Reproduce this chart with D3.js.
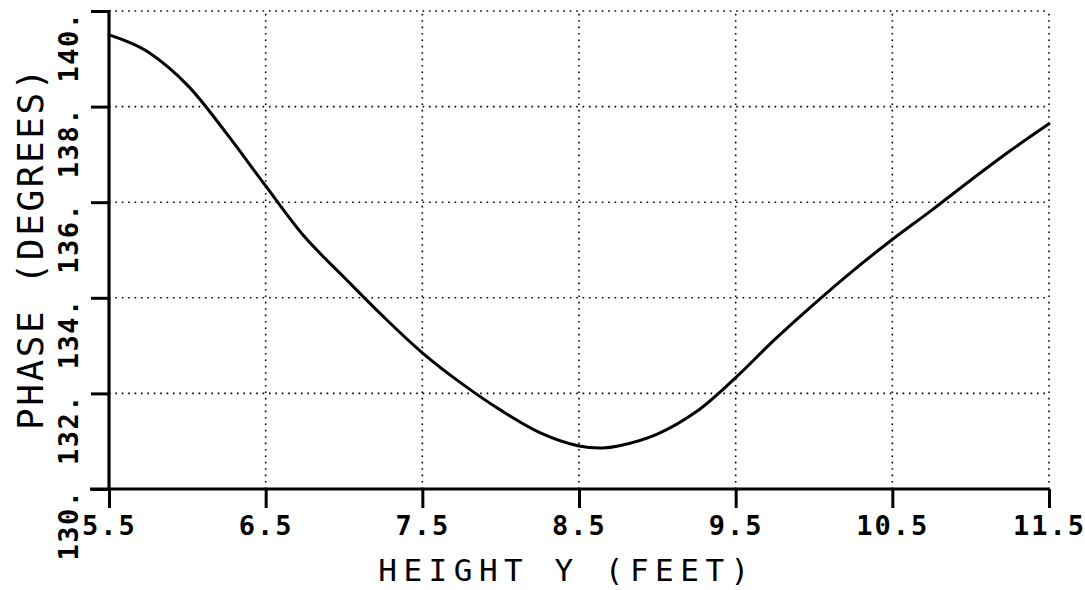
<!DOCTYPE html>
<html>
<head>
<meta charset="utf-8">
<script src="https://cdn.jsdelivr.net/npm/d3@7"></script>
<style>
  html, body { margin: 0; padding: 0; background: #fff; }
  svg { display: block; }
  text { font-family: "DejaVu Sans Mono", monospace; font-weight: bold; fill: #000; }
</style>
</head>
<body>
<svg id="chart" width="1085" height="590"></svg>
<script>
// ---- data ----
const heightFeet = [5.5, 5.625, 5.75, 6.0, 6.25, 6.5, 6.75, 7.0, 7.25, 7.5, 7.75, 8.0, 8.25, 8.5, 8.65, 8.75, 9.0, 9.25, 9.5, 9.75, 10.0, 10.25, 10.5, 10.75, 11.0, 11.25, 11.5];
const phaseDeg   = [139.50, 139.35, 139.14, 138.45, 137.44, 136.34, 135.27, 134.43, 133.61, 132.85, 132.21, 131.65, 131.18, 130.90, 130.86, 130.90, 131.15, 131.62, 132.33, 133.13, 133.87, 134.57, 135.22, 135.83, 136.46, 137.07, 137.64];
const xTicks = [5.5, 6.5, 7.5, 8.5, 9.5, 10.5, 11.5];
const xTickLabels = ["5.5", "6.5", "7.5", "8.5", "9.5", "10.5", "11.5"];
const yTicks = [130, 132, 134, 136, 138, 140];
const yTickLabels = ["130.", "132.", "134.", "136.", "138.", "140."];
const xTitle = "HEIGHT Y (FEET)";
const yTitle = "PHASE (DEGREES)";

// ---- layout ----
const svg = d3.select("#chart");
const x = d3.scaleLinear().domain([5.5, 11.5]).range([109, 1049]);
const y = d3.scaleLinear().domain([130, 140]).range([489, 11]);

// grid (dotted)
const grid = svg.append("g")
  .attr("stroke", "#000").attr("stroke-width", 1.6)
  .attr("stroke-dasharray", "1.6,4.8").attr("fill", "none");
grid.selectAll("line.v").data(xTicks.slice(1)).join("line")
  .attr("x1", d => x(d)).attr("x2", d => x(d))
  .attr("y1", y(130)).attr("y2", y(140));
grid.selectAll("line.h").data(yTicks.slice(1)).join("line")
  .attr("y1", d => y(d)).attr("y2", d => y(d))
  .attr("x1", x(5.5)).attr("x2", x(11.5));

// axes
const xAxis = d3.axisBottom(x).tickValues(xTicks).tickSize(19).tickFormat((d, i) => xTickLabels[i]).tickSizeOuter(0);
const gx = svg.append("g").attr("transform", `translate(0,${y(130)})`).call(xAxis);
gx.select(".domain").remove();
gx.selectAll(".tick line").attr("stroke", "#000").attr("stroke-width", 3);
gx.selectAll(".tick text").attr("y", 46).attr("dy", 0)
  .style("font-size", "27px").style("letter-spacing", "2px");

const yAxis = d3.axisLeft(y).tickValues(yTicks).tickSize(18).tickFormat((d, i) => yTickLabels[i]).tickSizeOuter(0);
const gy = svg.append("g").attr("transform", `translate(${x(5.5)},0)`).call(yAxis);
gy.select(".domain").remove();
gy.selectAll(".tick line").attr("stroke", "#000").attr("stroke-width", 3);
gy.selectAll(".tick text")
  .attr("x", 0).attr("dy", 0).attr("text-anchor", "end")
  .attr("transform", "translate(-31,0) rotate(-90)")
  .style("font-size", "27px").style("letter-spacing", "1.5px");

// axis lines
svg.append("line").attr("x1", x(5.5) - 19).attr("x2", x(11.5))
  .attr("y1", y(130)).attr("y2", y(130)).attr("stroke", "#000").attr("stroke-width", 3.2);
svg.append("line").attr("x1", x(5.5)).attr("x2", x(5.5))
  .attr("y1", y(130)).attr("y2", y(140) - 1).attr("stroke", "#000").attr("stroke-width", 3.2);

// curve
const line = d3.line().x((d, i) => x(heightFeet[i])).y(d => y(d)).curve(d3.curveCatmullRom.alpha(0.5));
svg.append("path").datum(phaseDeg).attr("d", line)
  .attr("fill", "none").attr("stroke", "#000").attr("stroke-width", 3)
  .attr("stroke-linejoin", "round").attr("stroke-linecap", "round");

// titles
svg.append("text").attr("x", 567).attr("y", 581).attr("text-anchor", "middle")
  .style("font-size", "31px").style("font-weight", "normal").style("letter-spacing", "6.5px")
  .text(xTitle);
svg.append("text").attr("transform", "translate(43,248) rotate(-90)").attr("text-anchor", "middle")
  .style("font-size", "36px").style("font-weight", "normal").style("letter-spacing", "2.6px")
  .text(yTitle);
</script>
</body>
</html>
